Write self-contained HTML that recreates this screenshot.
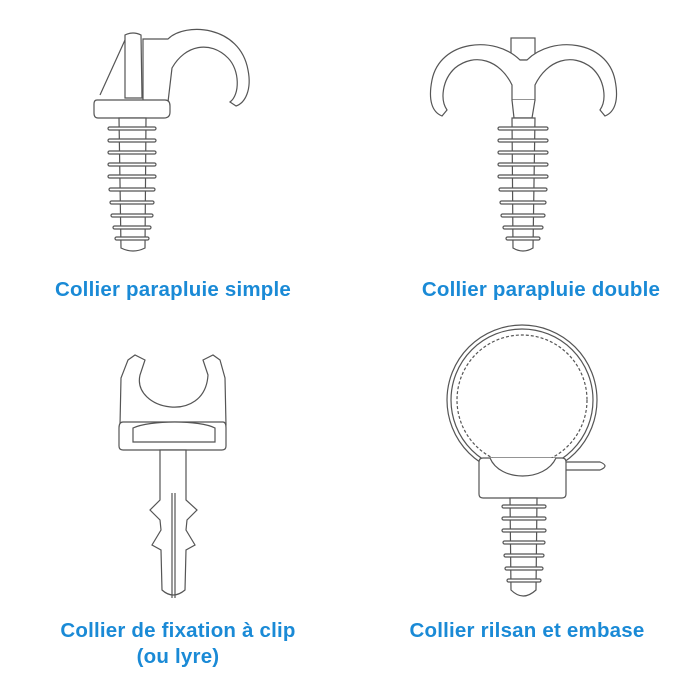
<!DOCTYPE html>
<html><head><meta charset="utf-8"><style>
html,body{margin:0;padding:0;background:#fff;width:700px;height:700px;overflow:hidden}
svg{position:absolute;left:0;top:0}
.l{position:absolute;font-family:"Liberation Sans",sans-serif;font-weight:bold;font-size:20.5px;color:#1a8ad6;text-align:center;width:360px;letter-spacing:0.2px}
</style></head><body>
<svg width="700" height="700" viewBox="0 0 700 700" fill="#fff" stroke="#555" stroke-width="1.2">
<!-- simple -->
<g>
<path d="M143,39 H168 C185,22 240,25 248,70 C252,90 245,103 236,106 L230,102 C240,95 240,70 228,58 C210,40 185,45 172,68 L168,102 H143Z"/>
<path d="M125,35 Q133,31 141,35 L142,98 L125,98Z"/>
<path d="M125,40 L100,95"/>
<path d="M97,100 H165 Q170,100 170,106 V112 Q170,118 164,118 H98 Q94,118 94,113 V104 Q94,100 97,100Z"/>
<path d="M119,118 H146 L145,248 Q133,254 121,248Z"/>
<rect x="108" y="127" width="48" height="3" rx="1.5"/><rect x="108" y="139" width="48" height="3" rx="1.5"/><rect x="108" y="151" width="48" height="3" rx="1.5"/><rect x="108" y="163" width="48" height="3" rx="1.5"/><rect x="108" y="175" width="48" height="3" rx="1.5"/><rect x="109" y="188" width="46" height="3" rx="1.5"/><rect x="110" y="201" width="44" height="3" rx="1.5"/><rect x="111" y="214" width="42" height="3" rx="1.5"/><rect x="113" y="226" width="38" height="3" rx="1.5"/><rect x="115" y="237" width="34" height="3" rx="1.5"/>
</g>
<!-- double -->
<g>
<rect x="511" y="38" width="24" height="22"/>
<path d="M520,60 C495,35 440,40 432,80 C428,100 432,112 442,116 L447,110 C440,100 442,80 455,68 C475,52 500,60 512,85 L512,100 H535 L535,85 C547,60 572,52 592,68 C605,80 607,100 600,110 L605,116 C615,112 619,100 615,80 C607,40 552,35 527,60Z"/>
<path d="M512,100 L514,118 H532 L535,100"/>
<path d="M512,118 H535 L533,248 Q523,254 513,248Z"/>
<rect x="498" y="127" width="50" height="3" rx="1.5"/><rect x="498" y="139" width="50" height="3" rx="1.5"/><rect x="498" y="151" width="50" height="3" rx="1.5"/><rect x="498" y="163" width="50" height="3" rx="1.5"/><rect x="498" y="175" width="50" height="3" rx="1.5"/><rect x="499" y="188" width="48" height="3" rx="1.5"/><rect x="500" y="201" width="46" height="3" rx="1.5"/><rect x="501" y="214" width="44" height="3" rx="1.5"/><rect x="503" y="226" width="40" height="3" rx="1.5"/><rect x="506" y="237" width="34" height="3" rx="1.5"/>
</g>
<!-- clip -->
<g>
<path d="M128,360 L135,355 L145,360 L140,375 C132,410 205,425 208,375 L203,360 L213,355 L220,360 L225,378 L226,425 H120 L121,378Z"/>
<path d="M123,422 H223 Q226,422 226,428 V446 Q226,450 222,450 H123 Q119,450 119,446 V428 Q119,422 123,422Z"/>
<path d="M133,428 C150,420 200,420 215,428 L215,442 H133Z"/>
<path d="M160,450 H186 V500 L197,510 L187,520 L186,530 L195,545 L186,550 L185,590 Q173,600 162,590 L161,550 L152,545 L161,530 L160,520 L150,510 L160,500Z"/>
<path d="M172,493 V598 M175,493 V598"/>
</g>
<!-- rilsan -->
<g>
<circle cx="522" cy="400" r="75"/>
<circle cx="522" cy="400" r="71"/>
<circle cx="522" cy="400" r="65" stroke-dasharray="3 2"/>
<path d="M560,462 L600,462 Q610,466 600,470 L560,470"/>
<path d="M483,458 H562 Q566,458 566,462 V494 Q566,498 562,498 H483 Q479,498 479,494 V462 Q479,458 483,458Z"/>
<path d="M490,458 C500,482 545,482 556,458"/>
<path d="M510,498 H537 L536,590 Q523,602 511,590Z"/>
<rect x="502" y="505" width="44" height="3" rx="1.5"/><rect x="502" y="517" width="44" height="3" rx="1.5"/><rect x="502" y="529" width="44" height="3" rx="1.5"/><rect x="503" y="541" width="42" height="3" rx="1.5"/><rect x="504" y="554" width="40" height="3" rx="1.5"/><rect x="505" y="567" width="38" height="3" rx="1.5"/><rect x="507" y="579" width="34" height="3" rx="1.5"/>
</g>
</svg>
<div class="l" style="left:-7px;top:278px">Collier parapluie simple</div>
<div class="l" style="left:361px;top:278px">Collier parapluie double</div>
<div class="l" style="left:-2px;top:619px">Collier de fixation à clip</div>
<div class="l" style="left:-2px;top:645px">(ou lyre)</div>
<div class="l" style="left:347px;top:619px">Collier rilsan et embase</div>
</body></html>
